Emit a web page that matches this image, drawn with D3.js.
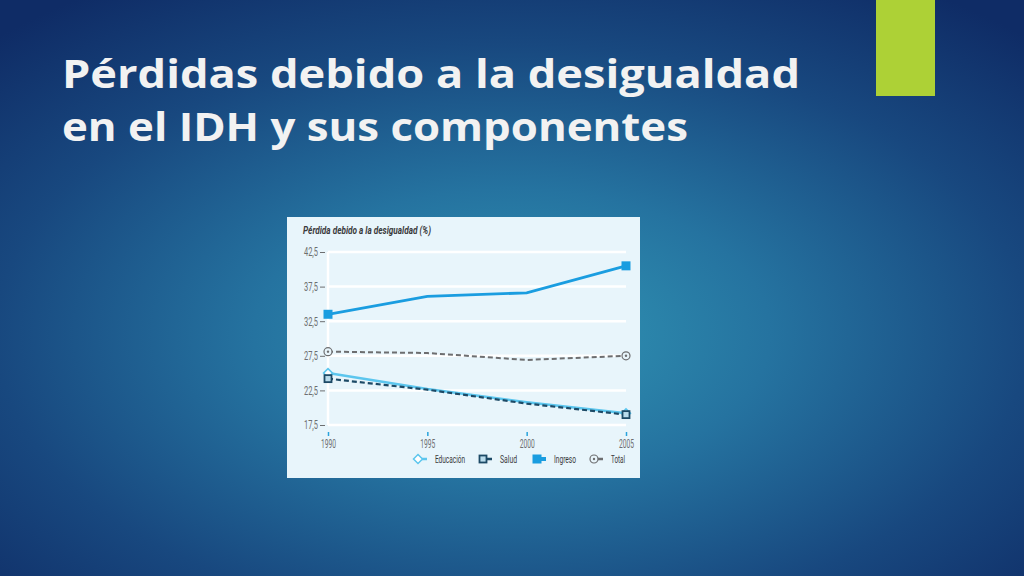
<!DOCTYPE html>
<html>
<head>
<meta charset="utf-8">
<script src="https://cdn.jsdelivr.net/npm/d3@7"></script>
<style>
  html, body { margin: 0; padding: 0; overflow: hidden; }
  body { width: 1024px; height: 576px; }
</style>
</head>
<body>
<div id="slide"></div>
<script>
// datos
var years = [1990, 1995, 2000, 2005];
var educacion = [25.0, 22.7, 20.8, 19.2];
var salud = [24.2, 22.6, 20.6, 19.0];
var ingreso = [33.5, 36.1, 36.6, 40.5];
var total = [28.1, 27.9, 26.9, 27.5];
var yTicks = [17.5, 22.5, 27.5, 32.5, 37.5, 42.5];
var seriesNames = ["Educación", "Salud", "Ingreso", "Total"];

var width = 1024;
var height = 576;
var CHART_FONT = "'Roboto', 'Liberation Sans', sans-serif";

var svg = d3.select("#slide")
    .append("svg")
    .attr("width", width)
    .attr("height", height);

// fondo
var defs = svg.append("defs");
var grad = defs.append("radialGradient")
    .attr("id", "bg")
    .attr("cx", "0.5").attr("cy", "0.58").attr("r", "0.72")
    .attr("gradientUnits", "objectBoundingBox");
grad.append("stop").attr("offset", "0%").attr("stop-color", "#3197b5");
grad.append("stop").attr("offset", "35%").attr("stop-color", "#2573a0");
grad.append("stop").attr("offset", "70%").attr("stop-color", "#18487f");
grad.append("stop").attr("offset", "100%").attr("stop-color", "#0f2c66");

svg.append("rect")
    .attr("width", width)
    .attr("height", height)
    .attr("fill", "url(#bg)");

// barra verde
svg.append("rect")
    .attr("x", 876).attr("y", 0)
    .attr("width", 59).attr("height", 96)
    .attr("fill", "#add136");

// título
var title = svg.append("g")
    .attr("font-family", "'Open Sans', 'DejaVu Sans', sans-serif")
    .attr("font-weight", "bold")
    .attr("font-size", 39)
    .attr("fill", "#f2f2f2");
title.append("text")
    .attr("x", 62).attr("y", 88)
    .attr("textLength", 738)
    .attr("lengthAdjust", "spacingAndGlyphs")
    .text("Pérdidas debido a la desigualdad");
title.append("text")
    .attr("x", 62).attr("y", 141)
    .attr("textLength", 626)
    .attr("lengthAdjust", "spacingAndGlyphs")
    .text("en el IDH y sus componentes");

// panel del gráfico
var panel = { x: 287, y: 217, w: 353, h: 261 };
svg.append("rect")
    .attr("x", panel.x).attr("y", panel.y)
    .attr("width", panel.w).attr("height", panel.h)
    .attr("fill", "#e8f5fb");

var xScale = d3.scaleLinear()
    .domain([1990, 2005])
    .range([328, 626]);

var yScale = d3.scaleLinear()
    .domain([17.5, 42.5])
    .range([425, 252]);

var chart = svg.append("g")
    .attr("font-family", CHART_FONT);

// texto estrecho (la fuente original es condensada)
function narrow(sel, w) {
    sel.attr("textLength", w).attr("lengthAdjust", "spacingAndGlyphs");
}

chart.append("text")
    .attr("x", 303).attr("y", 234)
    .attr("font-size", 11)
    .attr("font-weight", "bold")
    .attr("font-style", "italic")
    .attr("fill", "#3a3a3c")
    .text("Pérdida debido a la desigualdad (%)")
    .call(narrow, 128);

// líneas de cuadrícula
chart.append("g")
    .selectAll("line")
    .data(yTicks)
    .enter()
    .append("line")
    .attr("x1", xScale(1990))
    .attr("x2", xScale(2005))
    .attr("y1", function (d) { return yScale(d); })
    .attr("y2", function (d) { return yScale(d); })
    .attr("stroke", "#ffffff")
    .attr("stroke-width", 2.5);

chart.append("line")
    .attr("x1", xScale(1990)).attr("x2", xScale(1990))
    .attr("y1", yScale(42.5)).attr("y2", yScale(17.5))
    .attr("stroke", "#ffffff")
    .attr("stroke-width", 2.5);

// eje Y
var yAxis = d3.axisLeft(yScale)
    .tickValues(yTicks)
    .tickSize(5)
    .tickPadding(4)
    .tickFormat(function (d) { return d3.format(".1f")(d).replace(".", ","); });

var gy = chart.append("g")
    .attr("transform", "translate(" + (xScale(1990) - 1) + ",0)")
    .call(yAxis);
gy.select(".domain").remove();
gy.selectAll(".tick line").attr("stroke", "#6d6e70").attr("transform", "translate(-2,0)");
gy.selectAll(".tick text")
    .attr("fill", "#6d6e70")
    .attr("font-size", 12)
    .attr("font-family", CHART_FONT)
    .call(narrow, 14);

// eje X
var xAxis = d3.axisBottom(xScale)
    .tickValues(years)
    .tickSize(4)
    .tickPadding(3)
    .tickFormat(d3.format("d"));

var gx = chart.append("g")
    .attr("transform", "translate(0," + (yScale(17.5) + 7) + ")")
    .call(xAxis);
gx.select(".domain").remove();
gx.selectAll(".tick line").attr("stroke", "#29a3dc").attr("stroke-width", 1.5);
gx.selectAll(".tick text")
    .attr("fill", "#6d6e70")
    .attr("font-size", 12)
    .attr("font-family", CHART_FONT)
    .call(narrow, 15);

// series
var series = [
    { name: "Educación", values: educacion, color: "#5cc6ee", width: 2.5, dash: null, marker: "diamond" },
    { name: "Salud", values: salud, color: "#1d4a66", width: 2.2, dash: "5,3", marker: "squareOpen" },
    { name: "Ingreso", values: ingreso, color: "#1a9de0", width: 2.8, dash: null, marker: "square" },
    { name: "Total", values: total, color: "#6d6e70", width: 2, dash: "5,3", marker: "circle" }
];

var line = d3.line()
    .x(function (d) { return xScale(d.year); })
    .y(function (d) { return yScale(d.value); });

function points(s) {
    return years.map(function (y, i) { return { year: y, value: s.values[i] }; });
}

function drawMarker(g, type, color, x, y) {
    if (type == "diamond") {
        g.append("path")
            .attr("d", "M" + x + "," + (y - 4.5) + " L" + (x + 4.5) + "," + y + " L" + x + "," + (y + 4.5) + " L" + (x - 4.5) + "," + y + " Z")
            .attr("fill", "#ffffff")
            .attr("stroke", color)
            .attr("stroke-width", 1.5);
    } else if (type == "squareOpen") {
        g.append("rect")
            .attr("x", x - 3.5).attr("y", y - 3.5)
            .attr("width", 7).attr("height", 7)
            .attr("fill", "#b9dcec")
            .attr("stroke", color)
            .attr("stroke-width", 1.8);
    } else if (type == "square") {
        g.append("rect")
            .attr("x", x - 4.5).attr("y", y - 4.5)
            .attr("width", 9).attr("height", 9)
            .attr("fill", color);
    } else {
        g.append("circle")
            .attr("cx", x).attr("cy", y).attr("r", 4)
            .attr("fill", "#e8f5fb")
            .attr("stroke", color)
            .attr("stroke-width", 1.2);
        g.append("circle")
            .attr("cx", x).attr("cy", y).attr("r", 1.2)
            .attr("fill", color);
    }
}

var order = [series[3], series[0], series[1], series[2]];
order.forEach(function (s) {
    chart.append("path")
        .datum(points(s))
        .attr("d", line)
        .attr("fill", "none")
        .attr("stroke", s.color)
        .attr("stroke-width", s.width)
        .attr("stroke-dasharray", s.dash);
});

// marcadores en los extremos
order.forEach(function (s) {
    var pts = points(s);
    [pts[0], pts[pts.length - 1]].forEach(function (p) {
        drawMarker(chart, s.marker, s.color, xScale(p.year), yScale(p.value));
    });
});

// leyenda
var legendX = [418, 483, 537, 594];
var legendW = [30, 17, 22, 14];
var legend = chart.append("g");
series.forEach(function (s, i) {
    var lx = legendX[i];
    var ly = 459;
    legend.append("line")
        .attr("x1", lx).attr("x2", lx + 9)
        .attr("y1", ly).attr("y2", ly)
        .attr("stroke", s.color)
        .attr("stroke-width", s.name == "Ingreso" ? 4 : 2.5);
    drawMarker(legend, s.marker, s.color, lx, ly);
    legend.append("text")
        .attr("x", lx + 17)
        .attr("y", ly + 4)
        .attr("font-size", 11.5)
        .attr("fill", "#3a3a3c")
        .text(seriesNames[i])
        .call(narrow, legendW[i]);
});
</script>
</body>
</html>
